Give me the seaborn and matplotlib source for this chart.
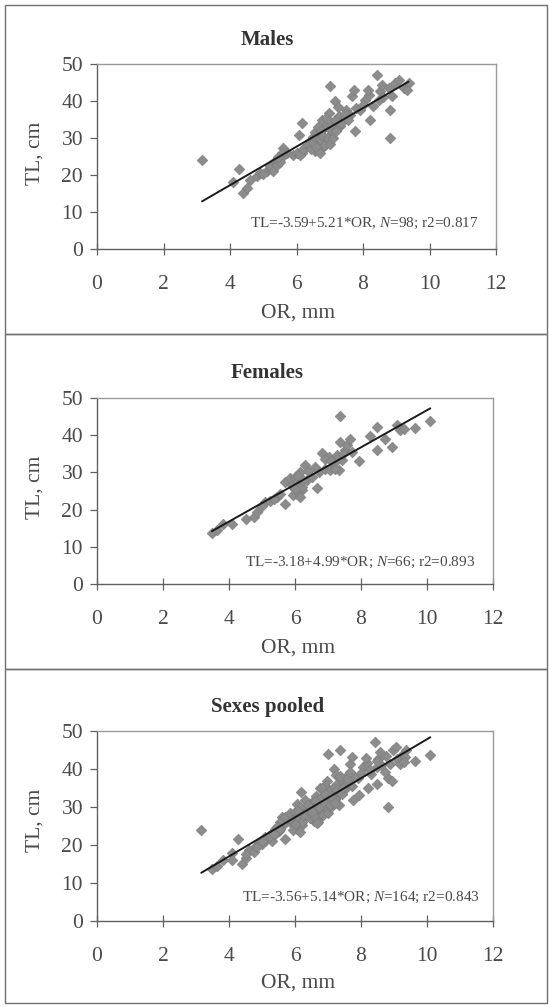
import numpy as np
import pandas as pd
import matplotlib
matplotlib.use("Agg")
import matplotlib.pyplot as plt
import seaborn as sns
from matplotlib.patches import Rectangle

# ---------------- data ----------------
males_or = [3.16, 4.26, 4.08, 4.38, 4.5, 4.6, 4.8, 4.9, 5.1, 5.2, 5.3, 5.4, 5.56, 5.6, 5.7, 5.9,
            6.07, 6.17, 6.17, 6.3, 6.4, 6.5, 6.57, 6.67, 6.72, 6.77, 6.8, 6.87, 6.9, 6.97, 7.0,
            7.07, 7.1, 7.17, 7.27, 7.3, 7.4, 7.5, 7.6, 7.67, 7.72, 7.77, 7.9, 8.07, 8.17, 8.2,
            8.3, 8.42, 8.47, 8.52, 8.57, 8.77, 8.82, 8.82, 8.87, 8.97, 9.07, 9.22, 9.37, 9.32,
            5.0, 5.2, 5.3, 5.4, 5.5, 5.55, 5.45, 6.0, 6.1, 6.2, 6.35, 6.45, 6.5, 6.55, 6.6, 6.6,
            6.65, 6.7, 6.7, 6.75, 6.8, 6.85, 6.9, 6.95, 7.0, 7.0, 7.05, 7.1, 7.15, 7.2, 7.25,
            7.35, 7.45, 7.55, 7.8, 8.0, 8.15, 8.6]
males_tl = [24.0, 21.6, 18.0, 15.1, 16.5, 18.7, 19.6, 20.5, 21.0, 21.9, 23.2, 24.1, 25.0, 27.3, 25.9, 25.5,
            30.9, 34.0, 25.9, 27.7, 29.1, 30.4, 26.4, 28.6, 31.4, 34.9, 27.7, 29.5, 33.2, 36.8, 44.0,
            31.4, 34.0, 39.9, 36.0, 33.2, 35.0, 37.7, 36.3, 41.3, 43.1, 31.8, 37.7, 40.4, 41.7, 35.0,
            38.6, 47.1, 40.4, 42.6, 44.4, 43.5, 37.7, 30.0, 41.3, 44.9, 45.8, 43.5, 44.9, 43.1,
            20.2, 22.5, 21.0, 22.8, 23.6, 26.0, 24.8, 26.0, 25.5, 27.0, 28.0, 27.0, 29.0, 31.5, 30.0, 27.5,
            33.0, 29.8, 26.0, 32.0, 30.5, 28.0, 35.5, 30.0, 32.5, 28.5, 33.5, 30.0, 35.0, 32.0, 38.5,
            34.0, 36.5, 35.0, 38.0, 39.0, 43.0, 41.0]

females_or = [3.48, 3.64, 3.82, 4.09, 4.5, 4.75, 4.85, 5.1, 5.25, 5.45, 5.55, 5.7, 5.7, 5.86, 5.96,
              6.0, 6.06, 6.1, 6.16, 6.21, 6.31, 6.36, 6.52, 6.67, 6.72, 6.82, 6.92, 7.02, 7.07, 7.17,
              7.27, 7.32, 7.37, 7.37, 7.42, 7.52, 7.58, 7.68, 7.73, 7.93, 8.28, 8.48, 8.48, 8.74, 8.94,
              9.09, 9.19, 9.29, 9.65, 10.1,
              5.9, 5.95, 6.05, 6.1, 6.15, 6.2, 6.25, 6.0, 6.4, 6.6, 6.9, 7.1, 7.2, 7.45, 5.35, 5.0]
females_tl = [13.8, 14.5, 16.1, 16.0, 17.6, 18.1, 19.4, 22.1, 22.4, 23.4, 24.3, 21.6, 27.5, 28.4, 25.7,
              28.8, 24.3, 26.6, 30.0, 25.2, 31.9, 27.9, 28.8, 25.7, 30.1, 35.1, 31.0, 34.2, 30.6, 32.4,
              34.6, 30.6, 45.1, 38.2, 33.3, 36.0, 37.3, 39.1, 35.6, 33.1, 39.7, 42.2, 36.0, 39.1, 36.9,
              42.7, 41.3, 41.8, 42.0, 43.8,
              26.5, 24.0, 27.5, 29.0, 23.5, 26.0, 28.0, 25.5, 30.5, 31.5, 33.5, 33.0, 31.0, 35.0, 22.8, 21.0]

panel_titles = ["Males", "Females", "Sexes pooled"]
intercepts = [-3.59, -3.18, -3.56]
slopes = [5.21, 4.99, 5.14]
n_values = [98, 66, 164]
r2_values = [0.817, 0.893, 0.843]
separators = [",", ";", ";"]
x_ticks = [0, 2, 4, 6, 8, 10, 12]
y_ticks = [0, 10, 20, 30, 40, 50]

datasets = [
    pd.DataFrame({"OR": males_or, "TL": males_tl}),
    pd.DataFrame({"OR": females_or, "TL": females_tl}),
    pd.DataFrame({"OR": males_or + females_or, "TL": males_tl + females_tl}),
]

# ---------------- style ----------------
sns.set_theme(style="white")
plt.rcParams["font.family"] = ["Liberation Serif", "DejaVu Serif"]
plt.rcParams["mathtext.fontset"] = "custom"
plt.rcParams["mathtext.it"] = "Liberation Serif:italic"
plt.rcParams["mathtext.rm"] = "Liberation Serif"

W, H = 549, 1007
fig = plt.figure(figsize=(W / 100, H / 100), dpi=100)

# axes boxes in px (left, right, top, bottom)
axes_px = [(97, 496, 64, 249), (97, 493, 398, 584), (97, 493, 731, 921)]
frames_px = [(5, 334), (334, 669), (669, 1003)]
title_px = [(267, 40), (267, 373), (268, 707)]
xlabel_py = [313, 648, 983]
ylabel_py = [153, 487, 820]
ann_pos = [(0.957, 0.14), (0.955, 0.118), (0.967, 0.126)]

for (t, b) in frames_px:
    fig.add_artist(Rectangle((5 / W, 1 - b / H), (547 - 5) / W, (b - t) / H,
                             transform=fig.transFigure, fill=False,
                             edgecolor="#707070", linewidth=1.0))

marker_color = "#8c8c8c"
text_color = "#4a4a4a"

for i, df in enumerate(datasets):
    l, r, t, b = axes_px[i]
    ax = fig.add_axes([l / W, 1 - b / H, (r - l) / W, (b - t) / H])
    sns.scatterplot(data=df, x="OR", y="TL", ax=ax, marker="D", s=30,
                    color=marker_color, edgecolor="#7a7a7a", linewidth=0.4, zorder=2)
    xs = np.array([df["OR"].min(), df["OR"].max()])
    sns.lineplot(x=xs, y=intercepts[i] + slopes[i] * xs, ax=ax, color="#1a1a1a",
                 linewidth=1.4, zorder=3)
    ax.set_xlim(0, 12)
    ax.set_ylim(0, 50)
    ax.set_xticks(x_ticks)
    ax.set_yticks(y_ticks)
    ax.set_xlabel("")
    ax.set_ylabel("")
    for side in ["left", "bottom"]:
        ax.spines[side].set_color("#606060")
        ax.spines[side].set_linewidth(1.0)
    for side in ["top", "right"]:
        ax.spines[side].set_color("#9a9a9a")
        ax.spines[side].set_linewidth(1.0)
    ax.tick_params(axis="x", direction="inout", length=8, width=0.9, color="#606060",
                   pad=15, labelsize=15.5, labelcolor=text_color, bottom=True)
    ax.tick_params(axis="y", direction="out", length=5, width=0.9, color="#606060",
                   pad=5, labelsize=15.5, labelcolor=text_color, left=True)
    ann = (f"TL={intercepts[i]:.2f}+{slopes[i]:.2f}*OR{separators[i]} "
           f"$\\mathit{{N}}$={n_values[i]}; r2={r2_values[i]:.3f}")
    ax.text(ann_pos[i][0], ann_pos[i][1], ann, transform=ax.transAxes,
            ha="right", va="center", fontsize=11, color=text_color)

    tx, ty = title_px[i]
    fig.text(tx / W, 1 - ty / H, panel_titles[i], ha="center", va="center",
             fontsize=15, fontweight="bold", color="#333333")
    fig.text(298 / W, 1 - xlabel_py[i] / H, "OR, mm", ha="center", va="center",
             fontsize=15.5, color=text_color)
    fig.text(35 / W, 1 - ylabel_py[i] / H, "TL, cm", ha="center", va="center",
             fontsize=15.5, color=text_color, rotation=90)

fig.savefig("out.png", dpi=100, facecolor="white")
